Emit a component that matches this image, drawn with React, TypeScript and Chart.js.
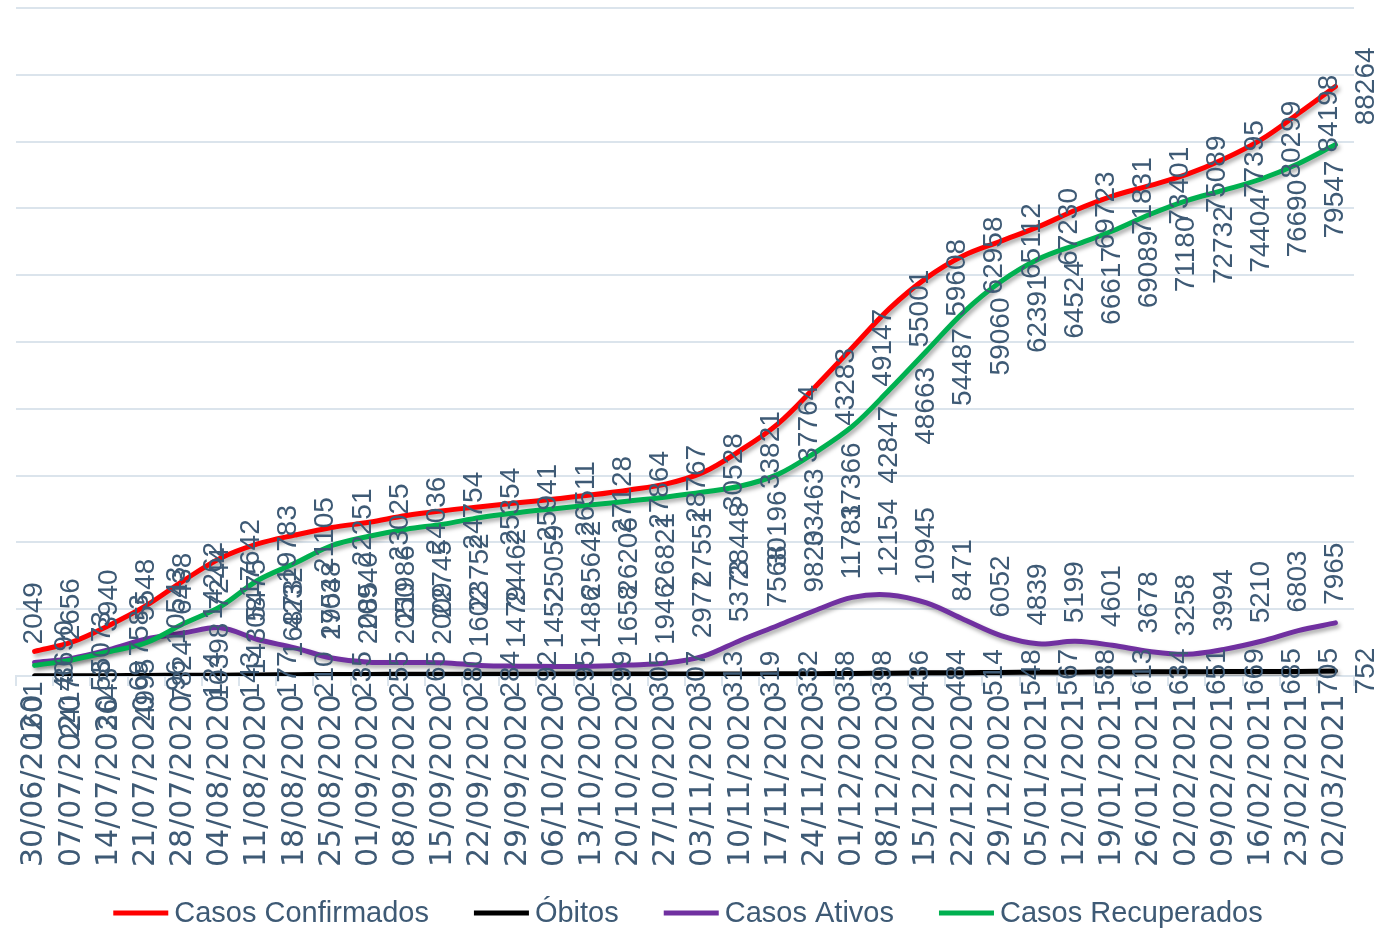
import React, { useEffect, useRef } from "react";
import { Chart, registerables } from "chart.js";

Chart.register(...registerables);

const categories = [
  "30/06/2020", "07/07/2020", "14/07/2020", "21/07/2020", "28/07/2020", "04/08/2020",
  "11/08/2020", "18/08/2020", "25/08/2020", "01/09/2020", "08/09/2020", "15/09/2020",
  "22/09/2020", "29/09/2020", "06/10/2020", "13/10/2020", "20/10/2020", "27/10/2020",
  "03/11/2020", "10/11/2020", "17/11/2020", "24/11/2020", "01/12/2020", "08/12/2020",
  "15/12/2020", "22/12/2020", "29/12/2020", "05/01/2021", "12/01/2021", "19/01/2021",
  "26/01/2021", "02/02/2021", "09/02/2021", "16/02/2021", "23/02/2021", "02/03/2021",
];

const casosConfirmados = [
  3690, 5073, 7583, 10543, 14262, 17642, 19783, 21105, 22251, 23025, 24036, 24754,
  25354, 25941, 26511, 27128, 27864, 28767, 30528, 33821, 37764, 43283, 49147, 55001,
  59608, 62958, 65112, 67230, 69723, 71831, 73401, 75089, 77395, 80299, 84198, 88264,
];

const obitos = [
  40, 53, 69, 96, 124, 143, 177, 210, 235, 255, 265, 280,
  284, 292, 295, 299, 305, 307, 313, 319, 332, 358, 398, 436,
  484, 514, 548, 567, 588, 613, 634, 651, 669, 685, 705, 752,
];

const casosAtivos = [
  2049, 2656, 3940, 5548, 6438, 7244, 5475, 4232, 2703, 2085, 2050, 2009,
  1602, 1479, 1452, 1486, 1658, 1946, 2977, 5373, 7568, 9820, 11781, 12154,
  10945, 8471, 6052, 4839, 5199, 4601, 3678, 3258, 3994, 5210, 6803, 7965,
];

const casosRecuperados = [
  1601, 2417, 3643, 4995, 7824, 10398, 14308, 16873, 19548, 20940, 21986, 22745,
  23752, 24462, 25059, 25642, 26206, 26821, 27551, 28448, 30196, 33463, 37366, 42847,
  48663, 54487, 59060, 62391, 64524, 66617, 69089, 71180, 72732, 74404, 76690, 79547,
];

const seriesNames = ["Casos Confirmados", "Óbitos", "Casos Ativos", "Casos Recuperados"];
const seriesColors = ["#ff0000", "#000000", "#7030a0", "#00b050"];
const labelPositions = ["right", "right", "above", "below"];

const Y_MAX = 100000;
const Y_STEP = 10000;

const TEXT_COLOR = "#3e5a75";
const GRID_COLOR = "#dbe4ec";
const FONT = "'Liberation Sans', Arial, sans-serif";
const TICK_FONT = "'DejaVu Sans', sans-serif";

const shadowPlugin = {
  id: "lineShadow",
  beforeDatasetDraw(chart: any) {
    const c = chart.ctx;
    c.save();
    c.shadowColor = "rgba(0,0,0,0.35)";
    c.shadowBlur = 4;
    c.shadowOffsetX = 2;
    c.shadowOffsetY = 3;
  },
  afterDatasetDraw(chart: any) {
    chart.ctx.restore();
  },
};

const labelPlugin = {
  id: "rotatedLabels",
  afterDraw(chart: any) {
    const ctx = chart.ctx;
    ctx.save();
    ctx.font = `28px ${FONT}`;
    ctx.fillStyle = TEXT_COLOR;
    chart.data.datasets.forEach((ds: any, i: number) => {
      const meta = chart.getDatasetMeta(i);
      const pos = labelPositions[i];
      meta.data.forEach((pt: any, j: number) => {
        const v = ds.data[j];
        let ax = pt.x;
        let ay = pt.y;
        let align: CanvasTextAlign = "center";
        if (pos === "right") {
          ax = pt.x + 31;
        } else if (pos === "above") {
          ay = pt.y - 18;
          align = "left";
        } else {
          ay = pt.y + 16;
          align = "right";
        }
        ctx.save();
        ctx.translate(ax, ay);
        ctx.rotate(-Math.PI / 2);
        ctx.textAlign = align;
        ctx.textBaseline = "middle";
        ctx.fillText(String(v), 0, 0);
        ctx.restore();
      });
    });

    // legend
    ctx.font = `29px ${FONT}`;
    ctx.textBaseline = "middle";
    ctx.textAlign = "left";
    const lineW = 55;
    const gapText = 6;
    const gapItem = 45;
    const widths = seriesNames.map((n) => ctx.measureText(n).width);
    const total =
      widths.reduce((s, w) => s + w + lineW + gapText, 0) + gapItem * (seriesNames.length - 1);
    let x = 688 - total / 2;
    const y = 913;
    seriesNames.forEach((n, i) => {
      ctx.fillStyle = seriesColors[i];
      ctx.fillRect(x, y - 2.5, lineW, 5);
      x += lineW + gapText;
      ctx.fillStyle = TEXT_COLOR;
      ctx.fillText(n, x, y + 1);
      x += widths[i] + gapItem;
    });
    ctx.restore();
  },
};

export default function App() {
  const canvasRef = useRef<HTMLCanvasElement | null>(null);

  useEffect(() => {
    document.body.style.margin = "0";
    const canvas = canvasRef.current;
    if (!canvas) return;
    const seriesData = [casosConfirmados, obitos, casosAtivos, casosRecuperados];
    const drawOrder = [3, 2, 1, 0];
    const chart = new Chart(canvas, {
      type: "line",
      data: {
        labels: categories,
        datasets: seriesNames.map((name, i) => ({
          label: name,
          data: seriesData[i],
          borderColor: seriesColors[i],
          backgroundColor: seriesColors[i],
          borderWidth: 5,
          pointRadius: 0,
          pointHoverRadius: 0,
          tension: 0.35,
          fill: false,
          order: drawOrder[i],
          borderCapStyle: "round" as const,
        })),
      },
      options: {
        animation: false,
        responsive: true,
        maintainAspectRatio: false,
        devicePixelRatio: 1,
        layout: { padding: { top: 8, left: 16, right: 43, bottom: 56 } },
        plugins: {
          tooltip: { enabled: false },
          legend: { display: false },
        },
        scales: {
          x: {
            offset: true,
            grid: {
              display: true,
              drawOnChartArea: false,
              drawTicks: true,
              tickLength: 10,
              color: GRID_COLOR,
              lineWidth: 2,
              offset: true,
            },
            border: { display: true, color: GRID_COLOR, width: 2 },
            ticks: {
              autoSkip: false,
              minRotation: 90,
              maxRotation: 90,
              color: TEXT_COLOR,
              font: { size: 30, family: TICK_FONT },
              padding: 8,
            },
          },
          y: {
            min: 0,
            max: Y_MAX,
            ticks: { display: false, stepSize: Y_STEP },
            grid: { color: GRID_COLOR, lineWidth: 2, drawTicks: false },
            border: { display: false },
          },
        },
      },
      plugins: [shadowPlugin, labelPlugin],
    });
    return () => chart.destroy();
  }, []);

  return (
    <div style={{ width: 1397, height: 931, position: "relative", background: "#fff" }}>
      <canvas ref={canvasRef} />
    </div>
  );
}
